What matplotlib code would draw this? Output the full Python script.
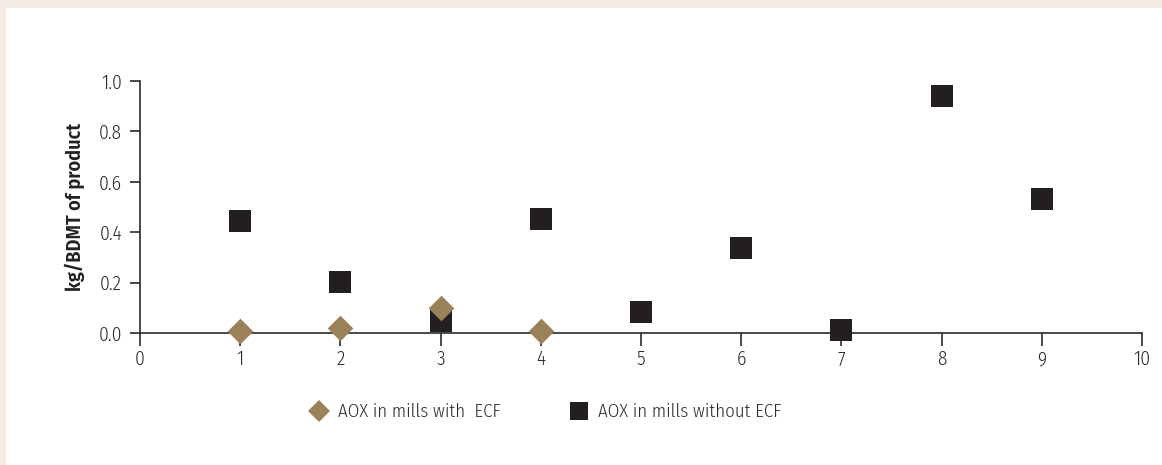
import matplotlib
matplotlib.use("Agg")
import matplotlib.pyplot as plt
from matplotlib import font_manager as fm
from matplotlib.patches import Rectangle
from matplotlib.lines import Line2D

# Data
mills = [1, 2, 3, 4, 5, 6, 7, 8, 9]
aox_without_ecf = [0.445, 0.202, 0.048, 0.452, 0.083, 0.337, 0.012, 0.940, 0.532]
mills_ecf = [1, 2, 3, 4]
aox_with_ecf = [0.008, 0.020, 0.100, 0.008]
xticks = list(range(0, 11))
yticks = [0.0, 0.2, 0.4, 0.6, 0.8, 1.0]
ylabel = "kg/BDMT of product"
label_ecf = "AOX in mills with  ECF"
label_noecf = "AOX in mills without ECF"


def find_font(name, weight, stretch):
    for f in fm.fontManager.ttflist:
        if f.name == name and f.weight == weight and f.stretch == stretch and f.style == 'normal':
            return f.fname
    return None


light_path = find_font('Fira Sans Condensed', 300, 'condensed') or find_font('Open Sans', 300, 'condensed')
bold_path = find_font('Fira Sans Condensed', 600, 'condensed') or find_font('Open Sans Condensed', 700, 'condensed')


def fp(path, size, fallback_weight='normal'):
    if path:
        return fm.FontProperties(fname=path, size=size)
    return fm.FontProperties(family=['Open Sans', 'DejaVu Sans'], weight=fallback_weight, size=size)


W, H = 1162, 465
plt.rcParams['font.family'] = ['Open Sans', 'DejaVu Sans']
fig = plt.figure(figsize=(W / 100, H / 100), dpi=100)
fig.patch.set_facecolor('#f5ede3')
fig.patches.append(Rectangle((6 / W, 0), 1, 1 - 8 / H, transform=fig.transFigure,
                             facecolor='white', edgecolor='none', zorder=-5))

ax = fig.add_axes([140 / W, 1 - 333 / H, (1142 - 140) / W, (333 - 81) / H])
ax.set_zorder(2)
ax.set_facecolor('none')

txt = '#2b2b2b'
sq_col = '#231f20'
dia_col = '#9b8158'
FS = 14

ax.scatter(mills, aox_without_ecf, marker='s', s=230, color=sq_col, linewidths=0,
           zorder=3, clip_on=False)
ax.scatter(mills_ecf, aox_with_ecf, marker='D', s=170, color=dia_col, linewidths=0,
           zorder=4, clip_on=False)

ax.set_xlim(0, 10)
ax.set_ylim(0, 1.0)
ax.set_xticks(xticks)
ax.set_yticks(yticks)
ax.set_xticklabels([str(v) for v in xticks], fontproperties=fp(light_path, FS))
ax.set_yticklabels([f"{v:.1f}" for v in yticks], fontproperties=fp(light_path, FS))
for s in ['top', 'right']:
    ax.spines[s].set_visible(False)
for s in ['left', 'bottom']:
    ax.spines[s].set_color('#2a2a2a')
    ax.spines[s].set_linewidth(1.2)
ax.tick_params(axis='x', direction='out', length=9, width=1.2, color='#2a2a2a',
               labelcolor=txt, pad=3)
ax.tick_params(axis='y', direction='out', length=7, width=1.2, color='#2a2a2a',
               labelcolor=txt, pad=6)
ax.set_ylabel(ylabel, fontproperties=fp(bold_path, 14.5, 'bold'), color='#222222', labelpad=10)

h_ecf = Line2D([], [], marker='D', linestyle='none', markersize=11, color=dia_col,
               markeredgewidth=0, label=label_ecf)
h_noecf = Line2D([], [], marker='s', linestyle='none', markersize=13, color=sq_col,
                 markeredgewidth=0, label=label_noecf)
ly = 1 - 412 / H
for h, x0 in [(h_ecf, 308), (h_noecf, 568)]:
    fig.legend(handles=[h], loc='center left', bbox_to_anchor=(x0 / W, ly),
               frameon=False, prop=fp(light_path, 13.5), labelcolor=txt,
               handletextpad=0.4, handlelength=1.2, borderpad=0, borderaxespad=0)

fig.savefig('out.png', dpi=100, facecolor=fig.get_facecolor())
